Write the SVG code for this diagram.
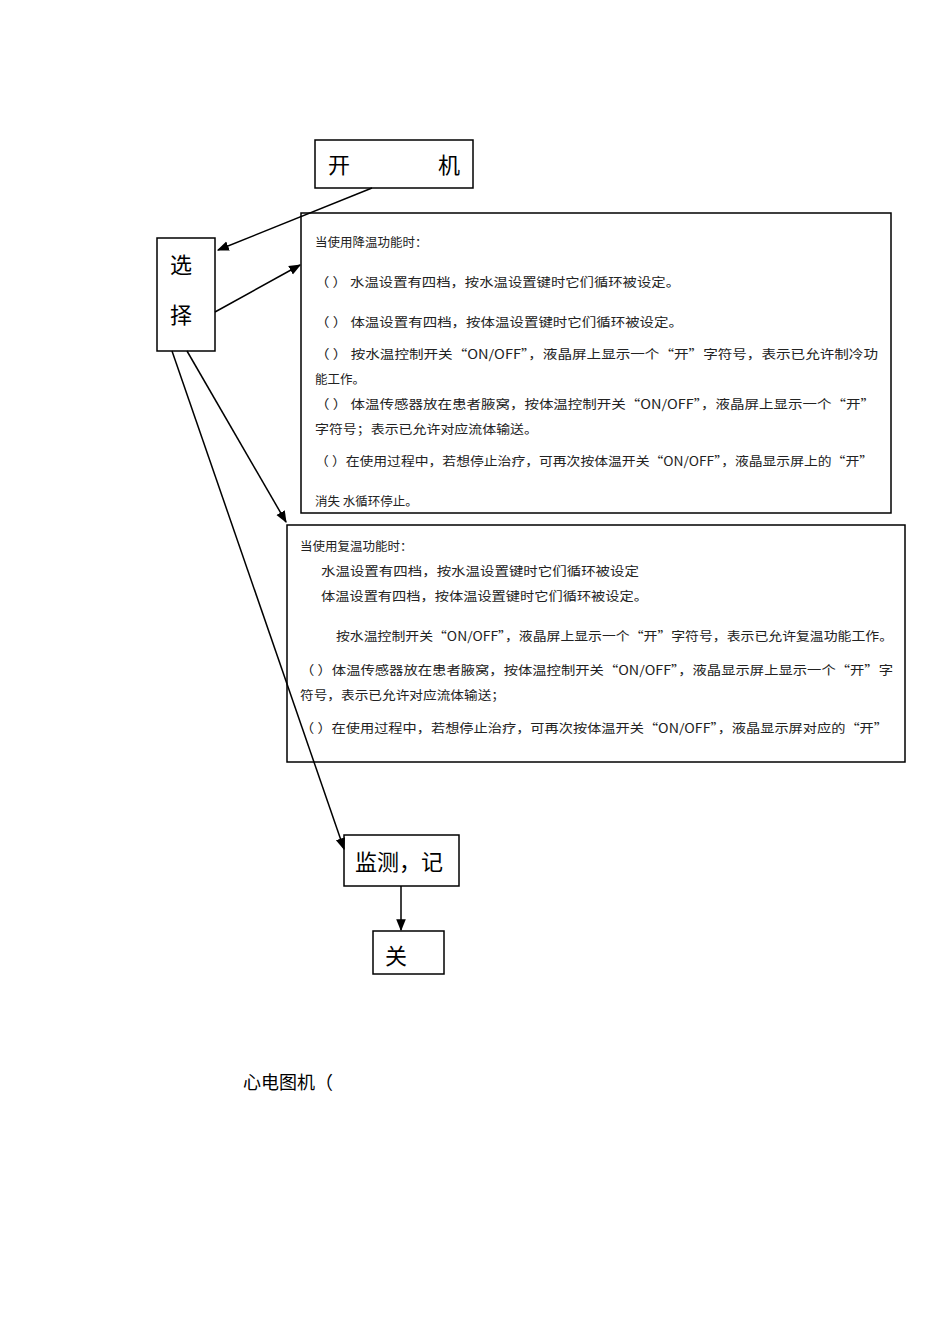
<svg xmlns="http://www.w3.org/2000/svg" width="950" height="1344" viewBox="0 0 950 1344">
<style>
.b{fill:#fff;stroke:#000;stroke-width:1.5}
.t{font-family:"Noto Sans CJK SC","Liberation Serif",serif;fill:#222;font-size:12.5px}
.n{font-family:"Noto Sans CJK SC","Liberation Serif",serif;fill:#000;font-size:22px}
.c{stroke:#000;stroke-width:1.5;fill:none;marker-end:url(#a)}
</style>
<defs><marker id="a" viewBox="0 0 10 10" refX="9" refY="5" markerWidth="8" markerHeight="8" orient="auto-start-reverse"><path d="M0,1 L10,5 L0,9 z" fill="#000"/></marker></defs>
<rect width="950" height="1344" fill="#fff"/>
<g id="kaiji"><rect class="b" x="315" y="140" width="158" height="48"/><text class="n" x="328" y="173">开</text><text class="n" x="438" y="173">机</text></g>
<g id="xuanze"><rect class="b" x="157" y="238" width="58" height="113"/><text class="n" x="170" y="273">选</text><text class="n" x="170" y="323">择</text></g>
<g id="cooling"><rect class="b" x="301" y="213" width="590" height="300"/>
<text class="t" x="315" y="247">当使用降温功能时：</text>
<text class="t" x="315" y="287" textLength="365" lengthAdjust="spacingAndGlyphs">（ ）  水温设置有四档，按水温设置键时它们循环被设定。</text>
<text class="t" x="315" y="327" textLength="368" lengthAdjust="spacingAndGlyphs">（ ）  体温设置有四档，按体温设置键时它们循环被设定。</text>
<text class="t" x="315" y="359" textLength="563" lengthAdjust="spacingAndGlyphs">（ ）  按水温控制开关“ON/OFF”，液晶屏上显示一个“开”字符号，表示已允许制冷功</text>
<text class="t" x="315" y="384">能工作。</text>
<text class="t" x="315" y="409" textLength="560" lengthAdjust="spacingAndGlyphs">（ ）  体温传感器放在患者腋窝，按体温控制开关“ON/OFF”，液晶屏上显示一个“开”</text>
<text class="t" x="315" y="434" textLength="223" lengthAdjust="spacingAndGlyphs">字符号；表示已允许对应流体输送。</text>
<text class="t" x="315" y="466" textLength="558" lengthAdjust="spacingAndGlyphs">（ ）在使用过程中，若想停止治疗，可再次按体温开关“ON/OFF”，液晶显示屏上的“开”</text>
<text class="t" x="315" y="506">消失  水循环停止。</text>
</g>
<g id="rewarm"><rect class="b" x="287" y="525" width="618" height="237"/>
<text class="t" x="300" y="551">当使用复温功能时：</text>
<text class="t" x="321" y="576" textLength="318" lengthAdjust="spacingAndGlyphs">水温设置有四档，按水温设置键时它们循环被设定</text>
<text class="t" x="321" y="601" textLength="327" lengthAdjust="spacingAndGlyphs">体温设置有四档，按体温设置键时它们循环被设定。</text>
<text class="t" x="336" y="641" textLength="557" lengthAdjust="spacingAndGlyphs">按水温控制开关“ON/OFF”，液晶屏上显示一个“开”字符号，表示已允许复温功能工作。</text>
<text class="t" x="300" y="675" textLength="593" lengthAdjust="spacingAndGlyphs">（ ）体温传感器放在患者腋窝，按体温控制开关“ON/OFF”，液晶显示屏上显示一个“开”字</text>
<text class="t" x="300" y="700" textLength="205" lengthAdjust="spacingAndGlyphs">符号，表示已允许对应流体输送；</text>
<text class="t" x="300" y="733" textLength="588" lengthAdjust="spacingAndGlyphs">（ ）在使用过程中，若想停止治疗，可再次按体温开关“ON/OFF”，液晶显示屏对应的“开”</text>
</g>
<g id="jiance"><rect class="b" x="344" y="835" width="115" height="51"/><text class="n" x="355" y="870">监测，记</text></g>
<g id="guan"><rect class="b" x="373" y="931" width="71" height="43"/><text class="n" x="385" y="964">关</text></g>
<g id="connectors">
<line class="c" x1="372" y1="188" x2="218" y2="250"/>
<line class="c" x1="215" y1="312" x2="300" y2="265"/>
<line class="c" x1="187" y1="351" x2="286" y2="522"/>
<line class="c" x1="172" y1="351" x2="344" y2="849"/>
<line class="c" x1="401" y1="886" x2="401" y2="930"/>
</g>
<text x="243" y="1089" style="font-family:'Noto Sans CJK SC',serif;font-size:18px">心电图机（</text>
</svg>
